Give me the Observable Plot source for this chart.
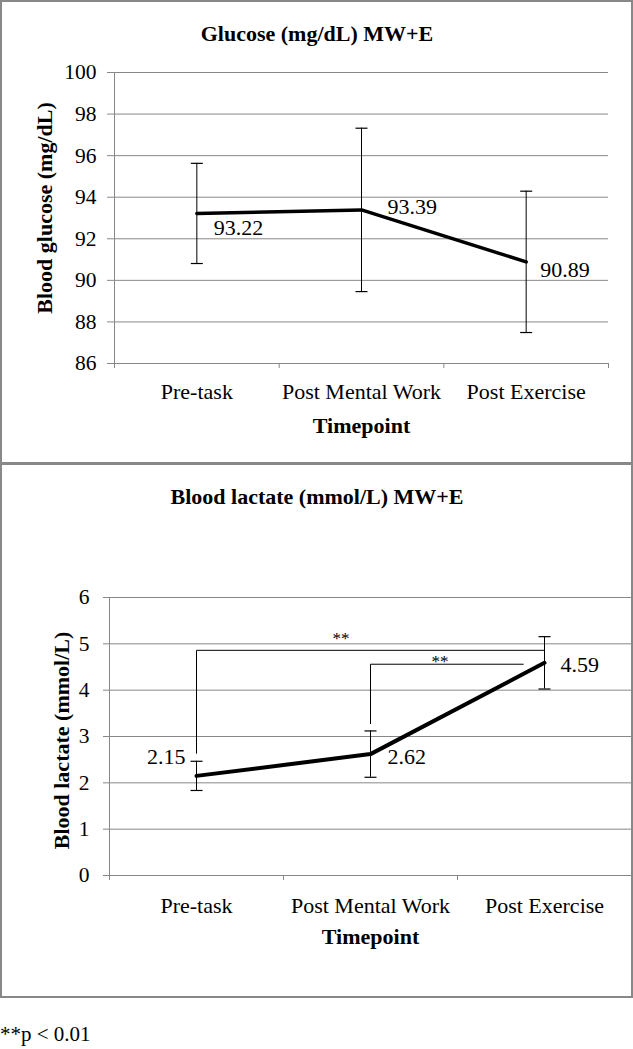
<!DOCTYPE html>
<html><head><meta charset="utf-8">
<script src="https://cdn.jsdelivr.net/npm/d3@7"></script>
<script src="https://cdn.jsdelivr.net/npm/@observablehq/plot@0.6"></script>
<style>
body{margin:0;background:#fff;width:633px;height:1049px;position:relative;overflow:hidden;font-family:"Liberation Serif","Times New Roman",serif;}
.panel{position:absolute;left:0;width:633px;}
.box{position:absolute;border:2px solid #888;box-sizing:border-box;pointer-events:none;}
#note{position:absolute;left:0;top:1024px;font-size:21px;line-height:21px;color:#000;white-space:nowrap;}
</style></head><body>
<div id="g" class="panel" style="top:0"></div>
<div id="l" class="panel" style="top:463px"></div>
<div class="box" style="left:0;top:0;width:633px;height:465px"></div>
<div class="box" style="left:0;top:462px;width:633px;height:536px"></div>
<div id="note">**p &lt; 0.01</div>
<script>
// ---- data ----
const categories = ["Pre-task", "Post Mental Work", "Post Exercise"];
const glucoseMean = [93.22, 93.39, 90.89];
const glucoseSD = [2.41, 3.93, 3.40];
const glucoseTicks = [86, 88, 90, 92, 94, 96, 98, 100];
const lactateMean = [2.15, 2.62, 4.59];
const lactateSD = [0.315, 0.50, 0.565];
const lactateTicks = [0, 1, 2, 3, 4, 5, 6];
// significance brackets (lactate)
const sigFrom = ["Pre-task", "Post Mental Work"];
const sigEndX = [2.5, 2.38];
const sigLevel = [4.86, 4.56];
const sigLegLow = [2.63, 3.27];
const sigLabel = ["**", "**"];
const sigLabelX = [1.33, 1.90];
const sigLabelY = [5.19, 4.70];

// ---- layout ----
const W = 633;
const GRAY = "#888888";
const FONT = "Liberation Serif, Times New Roman, serif";
const FS = 22;
const cap = {draw(ctx, size) { const r = Math.sqrt(size / Math.PI); ctx.moveTo(-r, 0); ctx.lineTo(r, 0); }};

function panel(o) {
  const rows = categories.map((c, i) => ({c, x: i + 0.5, y: o.mean[i], lo: o.mean[i] - o.sd[i], hi: o.mean[i] + o.sd[i], label: o.mean[i].toFixed(2)}));
  const frameMid = o.marginLeft + (W - o.marginLeft - o.marginRight) / 2;
  const labelMarks = rows.map((r, i) => Plot.text([r], {
    x: "x", y: "y", text: "label", textAnchor: o.labelOffsets[i].anchor,
    dx: o.labelOffsets[i].dx, dy: o.labelOffsets[i].dy, lineAnchor: "bottom", fontSize: FS, fill: "black"
  }));
  return Plot.plot({
    width: W, height: o.height,
    marginTop: o.marginTop, marginBottom: o.marginBottom, marginLeft: o.marginLeft, marginRight: o.marginRight,
    x: {domain: [0, 3], axis: null},
    y: {domain: [o.ticks[0], o.ticks[o.ticks.length - 1]], axis: null},
    style: {fontFamily: FONT, fontSize: FS + "px", color: "black", background: "transparent", overflow: "visible"},
    marks: [
      Plot.gridY(o.ticks, {stroke: GRAY, strokeOpacity: 1}),
      Plot.axisY({ticks: o.ticks, tickSize: o.tickSize, tickPadding: o.tickPadding, stroke: GRAY, strokeOpacity: 1, fill: "black", fontSize: 21.5, label: null, tickFormat: d => String(d)}),
      Plot.ruleX([0], {stroke: GRAY, strokeOpacity: 1}),
      Plot.axisX({ticks: [0, 1, 2, 3], tickSize: 5, stroke: GRAY, strokeOpacity: 1, tickFormat: () => "", label: null}),
      Plot.text(rows, {x: "x", text: "c", frameAnchor: "bottom", lineAnchor: "bottom", dy: o.catDy, fontSize: FS, fill: "black"}),
      Plot.text(["Timepoint"], {text: d => d, frameAnchor: "bottom", lineAnchor: "bottom", dy: o.timeDy, fontSize: FS, fontWeight: "bold", fill: "black"}),
      Plot.text([o.title], {text: d => d, frameAnchor: "top", textAnchor: "middle", lineAnchor: "bottom", dx: W / 2 - frameMid, dy: o.titleDy, fontSize: FS, fontWeight: "bold", fill: "black"}),
      Plot.text([o.yLabel], {text: d => d, frameAnchor: "left", textAnchor: "middle", lineAnchor: "middle", rotate: -90, dx: o.yTitleDx, dy: o.yTitleDy, fontSize: FS, fontWeight: "bold", fill: "black"}),
      ...(o.extra ? o.extra() : []),
      Plot.ruleX(rows, {x: "x", y1: "lo", y2: "hi", stroke: "black", strokeWidth: 1}),
      Plot.dot(rows, {x: "x", y: "hi", symbol: cap, r: 6, stroke: "black", fill: "none", strokeWidth: 1.2}),
      Plot.dot(rows, {x: "x", y: "lo", symbol: cap, r: 6, stroke: "black", fill: "none", strokeWidth: 1.2}),
      Plot.line(rows, {x: "x", y: "y", stroke: "black", strokeWidth: o.lineWidth, strokeLinejoin: "round"}),
      ...labelMarks
    ]
  });
}

document.getElementById("g").append(panel({
  title: "Glucose (mg/dL) MW+E", yLabel: "Blood glucose (mg/dL)",
  mean: glucoseMean, sd: glucoseSD, ticks: glucoseTicks,
  height: 463, marginTop: 72, marginBottom: 100, marginLeft: 114, marginRight: 25,
  tickSize: 7, tickPadding: 11, titleDy: -32, yTitleDx: -70, yTitleDy: -10, catDy: 35, timeDy: 69, lineWidth: 3.5,
  labelOffsets: [{anchor: "start", dx: 17, dy: 22}, {anchor: "start", dx: 26, dy: 4}, {anchor: "start", dx: 14, dy: 15.5}]
}));

document.getElementById("l").append(panel({
  title: "Blood lactate (mmol/L) MW+E", yLabel: "Blood lactate (mmol/L)",
  mean: lactateMean, sd: lactateSD, ticks: lactateTicks,
  height: 535, marginTop: 134, marginBottom: 123, marginLeft: 109, marginRight: 2,
  tickSize: 6, tickPadding: 14, titleDy: -94, yTitleDx: -48, yTitleDy: 4, catDy: 37, timeDy: 68, lineWidth: 4,
  labelOffsets: [{anchor: "end", dx: -11, dy: -12}, {anchor: "start", dx: 17, dy: 10}, {anchor: "start", dx: 16, dy: 9}],
  extra: () => {
    const br = sigFrom.map((f, i) => ({x1: categories.indexOf(f) + 0.5, x2: sigEndX[i], y: sigLevel[i], yLow: sigLegLow[i], lx: sigLabelX[i], ly: sigLabelY[i], t: sigLabel[i]}));
    return [
      Plot.link(br, {x1: "x1", x2: "x2", y1: "y", y2: "y", stroke: "black", strokeWidth: 1}),
      Plot.link(br, {x1: "x1", x2: "x1", y1: "yLow", y2: "y", stroke: "black", strokeWidth: 1}),
      Plot.text(br, {x: "lx", y: "ly", text: "t", fontSize: 17, dy: 4, fill: "black"})
    ];
  }
}));
</script>
</body></html>
